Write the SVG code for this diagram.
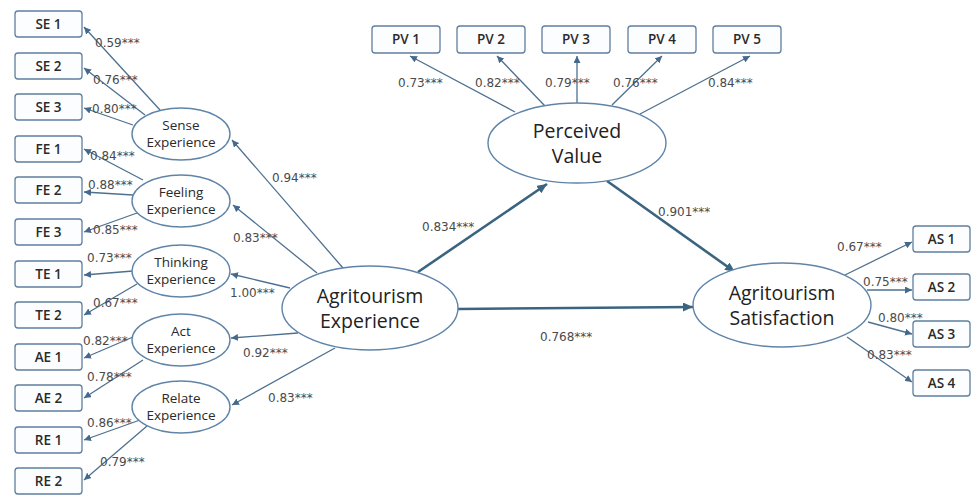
<svg xmlns="http://www.w3.org/2000/svg" width="973" height="495" viewBox="0 0 973 495">
<defs>
<marker id="a" markerUnits="userSpaceOnUse" markerWidth="8" markerHeight="7" refX="7" refY="3.5" orient="auto"><path d="M0,0 L7,3.5 L0,7 z" fill="#45698c"/></marker>
<marker id="b" markerUnits="userSpaceOnUse" markerWidth="11" markerHeight="9" refX="10" refY="4.5" orient="auto"><path d="M0,0 L10,4.5 L0,9 z" fill="#3a6480"/></marker>
<style>
.bx{fill:#fbfdff;stroke:#5f7f9e;stroke-width:1.3}
.el{fill:#fff;stroke:#5f84a8;stroke-width:1.4}
.ind{font-family:"Open Sans","Noto Sans",sans-serif;font-size:13.5px;font-weight:600;fill:#2a2a2a;text-anchor:middle}
.sm{font-family:"Open Sans","Noto Sans",sans-serif;font-size:13.5px;fill:#2a2a2a;text-anchor:middle}
.bg{font-family:"Open Sans","Noto Sans",sans-serif;font-size:19.5px;fill:#222;text-anchor:middle}
.lb{font-family:"DejaVu Sans",sans-serif;font-size:12px;fill:#4a4a4a}
.t{stroke:#4d7090;stroke-width:1.3;fill:none;marker-end:url(#a)}
.k{stroke:#3a6480;stroke-width:2.6;fill:none;marker-end:url(#b)}
</style>
</defs>
<rect width="973" height="495" fill="#fff"/>
<g id="connectors">
<path class="t" d="M160,110 L84,27"/>
<path class="t" d="M145,115 L84,68"/>
<path class="t" d="M133,125 L84,108"/>
<path class="t" d="M143,180 L84,149"/>
<path class="t" d="M133,195 L84,192"/>
<path class="t" d="M137,213 L84,232"/>
<path class="t" d="M133,271 L84,275"/>
<path class="t" d="M137,284 L84,315"/>
<path class="t" d="M133,337 L84,358"/>
<path class="t" d="M143,360 L84,398"/>
<path class="t" d="M140,420 L84,440"/>
<path class="t" d="M147,426 L84,480"/>
<path class="t" d="M343,268 L232,140"/>
<path class="t" d="M317,273 L233,205"/>
<path class="t" d="M290,288 L231,274"/>
<path class="t" d="M298,333 L231,338"/>
<path class="t" d="M335,348 L232,405"/>
<path class="t" d="M515,112 L410,56"/>
<path class="t" d="M545,106 L497,56"/>
<path class="t" d="M577,103 L577,56"/>
<path class="t" d="M612,105 L662,56"/>
<path class="t" d="M640,114 L750,56"/>
<path class="t" d="M845,275 L912,242"/>
<path class="t" d="M867,290 L912,290"/>
<path class="t" d="M868,322 L912,334"/>
<path class="t" d="M847,337 L912,382"/>
<path class="k" d="M418,272 L547,184"/>
<path class="k" d="M607,181 L735,272"/>
<path class="k" d="M458,309 L693,307"/>
<text class="lb" x="95" y="47">0.59***</text>
<text class="lb" x="93" y="84">0.76***</text>
<text class="lb" x="92" y="113">0.80***</text>
<text class="lb" x="90" y="160">0.84***</text>
<text class="lb" x="88" y="189">0.88***</text>
<text class="lb" x="93" y="234">0.85***</text>
<text class="lb" x="87" y="262">0.73***</text>
<text class="lb" x="93" y="307">0.67***</text>
<text class="lb" x="83" y="345">0.82***</text>
<text class="lb" x="87" y="381">0.78***</text>
<text class="lb" x="87" y="427">0.86***</text>
<text class="lb" x="100" y="466">0.79***</text>
<text class="lb" x="272" y="182">0.94***</text>
<text class="lb" x="233" y="242">0.83***</text>
<text class="lb" x="230" y="297">1.00***</text>
<text class="lb" x="243" y="357">0.92***</text>
<text class="lb" x="268" y="402">0.83***</text>
<text class="lb" x="398" y="87">0.73***</text>
<text class="lb" x="475" y="87">0.82***</text>
<text class="lb" x="545" y="87">0.79***</text>
<text class="lb" x="613" y="87">0.76***</text>
<text class="lb" x="708" y="87">0.84***</text>
<text class="lb" x="422" y="231">0.834***</text>
<text class="lb" x="658" y="216">0.901***</text>
<text class="lb" x="540" y="341">0.768***</text>
<text class="lb" x="837" y="251">0.67***</text>
<text class="lb" x="863" y="286">0.75***</text>
<text class="lb" x="878" y="322">0.80***</text>
<text class="lb" x="867" y="359">0.83***</text>
</g>
<g id="SE1"><rect class="bx" x="15" y="11" width="67" height="26" rx="3"/><text class="ind" x="48.5" y="29">SE 1</text></g>
<g id="SE2"><rect class="bx" x="15" y="53" width="67" height="26" rx="3"/><text class="ind" x="48.5" y="71">SE 2</text></g>
<g id="SE3"><rect class="bx" x="15" y="94" width="67" height="26" rx="3"/><text class="ind" x="48.5" y="112">SE 3</text></g>
<g id="FE1"><rect class="bx" x="15" y="136" width="67" height="26" rx="3"/><text class="ind" x="48.5" y="154">FE 1</text></g>
<g id="FE2"><rect class="bx" x="15" y="177" width="67" height="26" rx="3"/><text class="ind" x="48.5" y="195">FE 2</text></g>
<g id="FE3"><rect class="bx" x="15" y="219" width="67" height="26" rx="3"/><text class="ind" x="48.5" y="237">FE 3</text></g>
<g id="TE1"><rect class="bx" x="15" y="261" width="67" height="26" rx="3"/><text class="ind" x="48.5" y="279">TE 1</text></g>
<g id="TE2"><rect class="bx" x="15" y="302" width="67" height="26" rx="3"/><text class="ind" x="48.5" y="320">TE 2</text></g>
<g id="AE1"><rect class="bx" x="15" y="344" width="67" height="26" rx="3"/><text class="ind" x="48.5" y="362">AE 1</text></g>
<g id="AE2"><rect class="bx" x="15" y="385" width="67" height="26" rx="3"/><text class="ind" x="48.5" y="403">AE 2</text></g>
<g id="RE1"><rect class="bx" x="15" y="427" width="67" height="26" rx="3"/><text class="ind" x="48.5" y="445">RE 1</text></g>
<g id="RE2"><rect class="bx" x="15" y="468" width="67" height="26" rx="3"/><text class="ind" x="48.5" y="486">RE 2</text></g>
<g id="Sense"><ellipse class="el" cx="181" cy="134" rx="49" ry="26"/><text class="sm" x="181" y="130">Sense<tspan x="181" dy="17">Experience</tspan></text></g>
<g id="Feeling"><ellipse class="el" cx="181" cy="201" rx="49" ry="26"/><text class="sm" x="181" y="197">Feeling<tspan x="181" dy="17">Experience</tspan></text></g>
<g id="Thinking"><ellipse class="el" cx="181" cy="271" rx="49" ry="26"/><text class="sm" x="181" y="267">Thinking<tspan x="181" dy="17">Experience</tspan></text></g>
<g id="Act"><ellipse class="el" cx="181" cy="340" rx="49" ry="26"/><text class="sm" x="181" y="336">Act<tspan x="181" dy="17">Experience</tspan></text></g>
<g id="Relate"><ellipse class="el" cx="181" cy="407" rx="49" ry="26"/><text class="sm" x="181" y="403">Relate<tspan x="181" dy="17">Experience</tspan></text></g>
<g id="AgriExp"><ellipse class="el" cx="370" cy="308" rx="88" ry="42"/><text class="bg" x="370" y="303">Agritourism<tspan x="370" dy="25">Experience</tspan></text></g>
<g id="PV"><ellipse class="el" cx="577" cy="143" rx="89" ry="40"/><text class="bg" x="577" y="138">Perceived<tspan x="577" dy="25">Value</tspan></text></g>
<g id="AgriSat"><ellipse class="el" cx="782" cy="305" rx="89" ry="42"/><text class="bg" x="782" y="300">Agritourism<tspan x="782" dy="25">Satisfaction</tspan></text></g>
<g id="PV1"><rect class="bx" x="372" y="26" width="68" height="27" rx="3"/><text class="ind" x="406" y="44">PV 1</text></g>
<g id="PV2"><rect class="bx" x="457" y="26" width="68" height="27" rx="3"/><text class="ind" x="491" y="44">PV 2</text></g>
<g id="PV3"><rect class="bx" x="542" y="26" width="68" height="27" rx="3"/><text class="ind" x="576" y="44">PV 3</text></g>
<g id="PV4"><rect class="bx" x="628" y="26" width="68" height="27" rx="3"/><text class="ind" x="662" y="44">PV 4</text></g>
<g id="PV5"><rect class="bx" x="713" y="26" width="68" height="27" rx="3"/><text class="ind" x="747" y="44">PV 5</text></g>
<g id="AS1"><rect class="bx" x="913" y="226" width="57" height="26" rx="3"/><text class="ind" x="941.5" y="244">AS 1</text></g>
<g id="AS2"><rect class="bx" x="913" y="274" width="57" height="26" rx="3"/><text class="ind" x="941.5" y="292">AS 2</text></g>
<g id="AS3"><rect class="bx" x="913" y="321" width="57" height="26" rx="3"/><text class="ind" x="941.5" y="339">AS 3</text></g>
<g id="AS4"><rect class="bx" x="913" y="370" width="57" height="26" rx="3"/><text class="ind" x="941.5" y="388">AS 4</text></g>
</svg>
